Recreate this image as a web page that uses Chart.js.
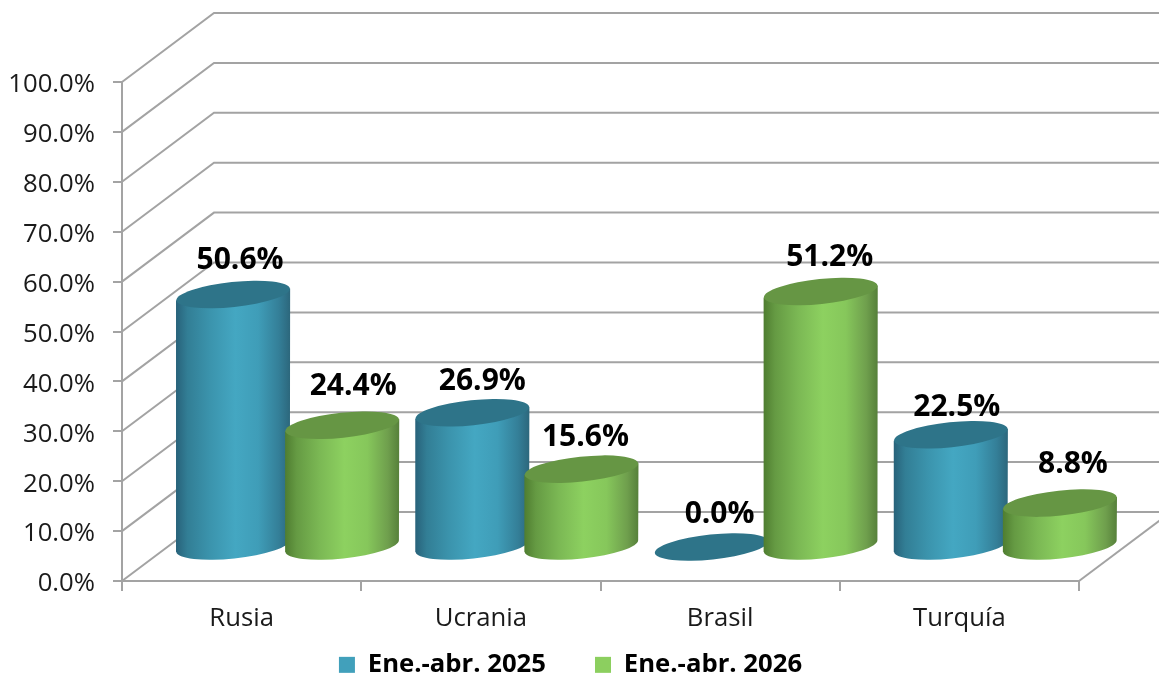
<!DOCTYPE html>
<html>
<head>
<meta charset="utf-8">
<title>Ene.-abr.</title>
<script src="https://cdn.jsdelivr.net/npm/chart.js@4"></script>
<style>
    html, body { margin: 0; padding: 0; background: #ffffff; }
    canvas { display: block; }
</style>
</head>
<body>
<canvas id="chart" width="1159" height="675"></canvas>
<script>
// Chart values
const categories = ['Rusia', 'Ucrania', 'Brasil', 'Turquía'];
const seriesNames = ['Ene.-abr. 2025', 'Ene.-abr. 2026'];
const values2025 = [50.6, 26.9, 0.0, 22.5];
const values2026 = [24.4, 15.6, 51.2, 8.8];

// Look of the fake 3D box and cylinders
const lineColor = '#a3a3a3';
const textColor = '#1a1a1a';
const wallDx = 92, wallDy = -69;   // depth of the floor
const barDx = 46, barDy = -34;     // cylinders stand half way in
const tilt = -6 * Math.PI / 180;
const ellipseRy = 12.5;
const looks = [
    { flat: '#41a0bb', top: '#2e7489', stops: ['#28627a', '#327e95', '#3b94ad', '#44a7c2', '#3f9db8', '#347f98', '#2c677c'] },
    { flat: '#8ccf5f', top: '#669644', stops: ['#4f7d30', '#659a43', '#7bb854', '#8dd160', '#86c75b', '#6f9f4d', '#56803a'] }
];
const stopAt = [0, 0.1, 0.3, 0.52, 0.72, 0.9, 1];
// Labels do not sit at the same spot on every bar in the original
const labelShift = [[7, -34, 11, -39], [10, -31, 4, -32], [8, -33, 9, -34], [6, -27, 13, -39]];

const boxPlugin = {
    id: 'box3d',
    beforeLayout(chart) {
        // wide gap between the legend items, but no tall legend box because of it
        const legend = chart.legend;
        if (!legend.fitWrapped) {
            const fit = legend.fit;
            legend.fit = function() {
                fit.call(this);
                this.height = 36;
            };
            legend.fitWrapped = true;
        }
    },
    afterLayout(chart) {
        // legend is centred on the plot with its depth, not the full canvas
        const legend = chart.legend;
        legend.left += 31;
        legend.right += 31;
        legend.top = 666 - legend.options.labels.padding - 14;
    },
    beforeDatasetsDraw(chart) {
        const ctx = chart.ctx, yScale = chart.scales.y, area = chart.chartArea;
        ctx.save();
        ctx.strokeStyle = lineColor;
        ctx.lineWidth = 2;
        yScale.ticks.forEach(function(tick) {
            const y = yScale.getPixelForValue(tick.value);
            ctx.beginPath();
            ctx.moveTo(area.left, y);
            ctx.lineTo(area.left + wallDx, y + wallDy);
            ctx.lineTo(area.right + wallDx, y + wallDy);
            ctx.stroke();
        });
        ctx.beginPath();
        ctx.moveTo(area.right, area.bottom);
        ctx.lineTo(area.right + wallDx, area.bottom + wallDy);
        ctx.stroke();
        ctx.restore();
    },
    // the plain rectangles are replaced by cylinders below
    beforeDatasetDraw() {
        return false;
    },
    afterDatasetsDraw(chart) {
        const ctx = chart.ctx;
        categories.forEach(function(name, i) {
            chart.data.datasets.forEach(function(ds, d) {
                drawCylinder(ctx, chart.getDatasetMeta(d).data[i], looks[d], ds.data[i]);
            });
        });
        ctx.save();
        ctx.fillStyle = '#000000';
        ctx.font = 'bold 30px "Open Sans"';
        ctx.textAlign = 'center';
        ctx.textBaseline = 'middle';
        categories.forEach(function(name, i) {
            chart.data.datasets.forEach(function(ds, d) {
                const bar = chart.getDatasetMeta(d).data[i];
                const shift = labelShift[i];
                ctx.fillText(ds.data[i].toFixed(1) + '%',
                    bar.x + barDx + shift[d * 2], bar.y + barDy + shift[d * 2 + 1]);
            });
        });
        ctx.restore();
    }
};

function drawCylinder(ctx, bar, look, value) {
    const cx = bar.x + barDx;
    const topY = bar.y + barDy;
    const baseY = bar.base + barDy;
    const rx = bar.width / 2;
    const endDy = Math.sin(tilt) * rx;

    ctx.save();
    if (value > 0) {
        const grad = ctx.createLinearGradient(cx - rx, 0, cx + rx, 0);
        look.stops.forEach(function(color, s) {
            grad.addColorStop(stopAt[s], color);
        });
        ctx.fillStyle = grad;
        ctx.beginPath();
        ctx.moveTo(cx - rx, topY - endDy);
        ctx.lineTo(cx - rx, baseY - endDy);
        ctx.ellipse(cx, baseY, rx, ellipseRy, tilt, Math.PI, 0, true);
        ctx.lineTo(cx + rx, topY + endDy);
        ctx.closePath();
        ctx.fill();
    }
    ctx.fillStyle = look.top;
    ctx.beginPath();
    ctx.ellipse(cx, topY, rx, ellipseRy, tilt, 0, Math.PI * 2);
    ctx.fill();
    ctx.restore();
}

new Chart(document.getElementById('chart').getContext('2d'), {
    type: 'bar',
    data: {
        labels: categories,
        datasets: [
            { label: seriesNames[0], data: values2025, backgroundColor: looks[0].flat },
            { label: seriesNames[1], data: values2026, backgroundColor: looks[1].flat }
        ]
    },
    plugins: [boxPlugin],
    options: {
        responsive: false,
        animation: false,
        events: [],
        devicePixelRatio: 1,
        categoryPercentage: 0.912,
        barPercentage: 1.046,
        layout: { padding: { top: 82, right: 80, bottom: 0, left: 0 } },
        scales: {
            x: {
                afterFit(scale) { scale.height = 58; },
                grid: { drawOnChartArea: false, color: lineColor, lineWidth: 2, tickLength: 10 },
                border: { color: lineColor, width: 2 },
                ticks: { color: textColor, font: { family: '"Open Sans"', size: 25.7 }, padding: 12, maxRotation: 0 }
            },
            y: {
                min: 0,
                max: 100,
                afterFit(scale) { scale.width = 122; },
                grid: { drawOnChartArea: false, color: lineColor, lineWidth: 2, tickLength: 9 },
                border: { color: lineColor, width: 2 },
                ticks: {
                    stepSize: 10,
                    color: textColor,
                    font: { family: '"Open Sans"', size: 25.7 },
                    padding: 18,
                    labelOffset: 3,
                    callback: function(value) { return value.toFixed(1) + '%'; }
                }
            }
        },
        plugins: {
            title: { display: false },
            tooltip: { enabled: false },
            legend: {
                position: 'bottom',
                labels: {
                    color: '#000000',
                    font: { family: '"Open Sans"', size: 25.7, weight: 'bold' },
                    boxWidth: 16,
                    boxHeight: 16,
                    padding: 49
                }
            }
        }
    }
});
</script>
</body>
</html>
